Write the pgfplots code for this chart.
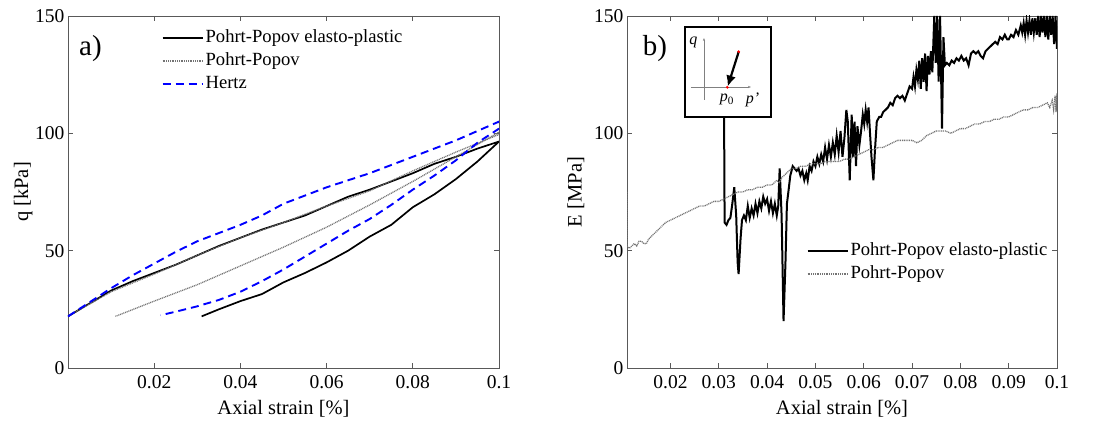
\documentclass[border=0pt]{standalone}
\usepackage{pgfplots}
\pgfplotsset{compat=1.18}
\usepackage{fontspec}
\setmainfont{Liberation Serif}
\usetikzlibrary{arrows.meta}
\pgfplotsset{
  mystyle/.style={
    scale only axis, width=431pt, height=352pt,
    axis line style={line width=0.9pt, black!65},
    tick align=inside, major tick length=5pt,
    tick style={line width=0.8pt, black!65},
    /pgf/number format/assume math mode=true,
    ticklabel style={font=\fontsize{19.5}{21}\selectfont},
    xticklabel style={yshift=-4pt},
    label style={font=\fontsize{20.5}{22}\selectfont},
    scaled x ticks=false,
    xticklabel style={/pgf/number format/fixed, /pgf/number format/precision=2},
    ymin=0, ymax=150, ytick={0,50,100,150},
    xmax=0.1,
    xlabel={Axial strain [\%]},
    xlabel style={at={(axis description cs:0.5,-0.116)}, anchor=center},
    legend cell align=left,
    legend image code/.code={\draw[#1] (0pt,0pt) -- (40pt,0pt);},
  },
  pp/.style={black, line width=1.7pt},
  ppd/.style={black!55, line width=1.3pt, dash pattern=on 1pt off 0.8pt},
  hz/.style={blue, line width=1.9pt, dash pattern=on 8pt off 5pt},
}
\begin{document}
\begin{tikzpicture}
\path[use as bounding box] (0,0) rectangle (1096pt,426pt);
% ---------- panel a ----------
\begin{axis}[mystyle, at={(68pt,58pt)}, anchor=south west,
  xmin=0, xtick={0.02,0.04,0.06,0.08,0.1},
  ylabel={q [kPa]},
  ylabel style={at={(axis description cs:-0.104,0.5)}, anchor=center, rotate=0},
  legend style={draw=none, fill=none, at={(0.21,0.975)}, anchor=north west,
    font=\fontsize{18.6}{22}\selectfont, row sep=1pt,
    nodes={inner sep=2pt, text height=14pt, text depth=4pt}},
]
\addplot[pp] coordinates {
(0,22) (0.005,27.5) (0.01,33) (0.015,37) (0.02,40.5) (0.025,44) (0.03,48)
(0.035,52) (0.04,55.5) (0.045,59) (0.05,62) (0.055,65) (0.06,69) (0.065,73)
(0.07,76) (0.075,79.5) (0.08,83) (0.085,87) (0.09,90) (0.095,93.5) (0.1,96.5)
(0.095,88) (0.09,80.5) (0.085,74) (0.08,68.5) (0.075,61) (0.07,56) (0.065,50)
(0.06,45) (0.055,40.5) (0.05,36.5) (0.045,31.5) (0.04,28.5) (0.035,25) (0.031,22)
};
\addlegendentry{Pohrt-Popov elasto-plastic}
\addplot[ppd] coordinates {
(0,22) (0.01,32.5) (0.02,40) (0.03,48) (0.04,55.5) (0.05,62) (0.06,69)
(0.07,75.5) (0.08,84) (0.09,92) (0.1,99.5)
(0.1,100.5) (0.09,90) (0.08,79.5) (0.07,69.5) (0.06,60) (0.05,51.5)
(0.04,43.5) (0.03,35.5) (0.02,28.5) (0.011,22)
};
\addlegendentry{Pohrt-Popov}
\addplot[hz] coordinates {
(0,22) (0.005,28) (0.01,34) (0.015,39.5) (0.02,44.5) (0.025,49.5) (0.03,54)
(0.035,57.5) (0.04,61) (0.045,65) (0.05,70) (0.055,73.5) (0.06,77) (0.065,80)
(0.07,83) (0.075,86.5) (0.08,90) (0.085,93.5) (0.09,97) (0.095,101) (0.1,105)
(0.1,102) (0.095,96) (0.09,88.5) (0.085,82) (0.08,76) (0.075,69.5) (0.07,63.5)
(0.065,58.5) (0.06,53) (0.055,47.5) (0.05,42) (0.045,37) (0.04,32.5)
(0.035,29) (0.03,26.3) (0.025,24) (0.0215,22.5)
};
\addlegendentry{Hertz}
\node[font=\fontsize{29}{30}\selectfont] at (axis cs:0.0052,136) {a)};
\end{axis}
% ---------- panel b ----------
\begin{axis}[mystyle, width=430pt, at={(627pt,58pt)}, anchor=south west,
  xmin=0.011, xtick={0.02,0.03,0.04,0.05,0.06,0.07,0.08,0.09,0.1},
  ylabel={E [MPa]},
  ylabel style={at={(axis description cs:-0.119,0.5)}, anchor=center},
  legend style={draw=none, fill=none, at={(0.41,0.37)}, anchor=north west,
    font=\fontsize{18.6}{22}\selectfont, row sep=1pt,
    nodes={inner sep=2pt, text height=14pt, text depth=4pt}},
]
\addplot[pp, line width=2pt] coordinates {
(0.0310,130) (0.0311,105) (0.0312,62) (0.0316,61) (0.0320,63) (0.0324,64)
(0.0328,70) (0.0332,77) (0.0336,65) (0.0339,45) (0.0341,40) (0.0345,55)
(0.0348,63) (0.0352,65) (0.0356,63) (0.0360,69) (0.0364,64) (0.0368,68)
(0.0372,65) (0.0376,70) (0.0380,66) (0.0384,71) (0.0388,68) (0.0392,73)
(0.0396,70) (0.0400,72) (0.0404,67) (0.0408,71) (0.0412,66) (0.0416,70)
(0.0420,65) (0.0423,69) (0.0426,85) (0.0430,65) (0.0434,20) (0.0438,45)
(0.0441,70) (0.0444,75) (0.0448,82) (0.0453,86) (0.0457,85) (0.0461,84)
(0.0465,85) (0.0469,82) (0.0473,84) (0.0477,80) (0.0481,83) (0.0484,80)
(0.0488,86) (0.0492,84) (0.0496,88) (0.0500,86) (0.0504,90) (0.0508,87)
(0.0512,91) (0.0516,88) (0.0520,94) (0.0524,89) (0.0528,95) (0.0532,90)
(0.0536,96) (0.0540,91) (0.0544,99) (0.0548,92) (0.0552,101) (0.0556,90)
(0.0560,98) (0.0564,110) (0.0567,105) (0.0571,80) (0.0575,108) (0.0578,90)
(0.0581,105) (0.0584,86) (0.0587,103) (0.0591,95) (0.0594,100) (0.0598,108)
(0.0601,104) (0.0604,110) (0.0607,105) (0.0610,111) (0.0613,100) (0.0616,90)
(0.0620,80) (0.0623,92) (0.0627,105) (0.0632,107) (0.0636,107) (0.0640,109)
(0.0645,110) (0.0650,111) (0.0655,113) (0.0660,112) (0.0665,115) (0.0670,116)
(0.0675,115) (0.0680,116) (0.0685,114) (0.0690,117) (0.0695,120) (0.0700,119)
(0.0703,124) (0.0706,120) (0.0709,127) (0.0712,123) (0.0715,131) (0.0718,119)
(0.0721,132) (0.0724,122) (0.0727,134) (0.0730,118) (0.0733,133) (0.0736,125)
(0.0739,135) (0.0742,126) (0.0746,150) (0.0749,130) (0.0752,150) (0.0755,122)
(0.0758,150) (0.0762,102) (0.0765,141) (0.0768,129) (0.0772,130) (0.0777,129)
(0.0782,131) (0.0787,130) (0.0792,132) (0.0797,131) (0.0802,133) (0.0807,131)
(0.0812,132) (0.0817,129) (0.0822,134) (0.0827,135) (0.0832,134) (0.0837,135)
(0.0842,133) (0.0847,132) (0.0852,135) (0.0857,136) (0.0862,137) (0.0867,138)
(0.0872,139) (0.0877,138) (0.0882,141) (0.0887,140) (0.0892,142) (0.0897,140)
(0.0900,140) (0.0905,142) (0.0910,141) (0.0915,144) (0.0920,142) (0.0925,146)
(0.0928,143) (0.0931,147) (0.0934,142) (0.0937,148) (0.0940,143) (0.0943,148)
(0.0946,142) (0.0949,149) (0.0952,143) (0.0955,149) (0.0958,142) (0.0961,150)
(0.0964,141) (0.0967,150) (0.0970,143) (0.0973,150) (0.0976,141) (0.0979,150)
(0.0982,140) (0.0985,150) (0.0988,142) (0.0991,150) (0.0994,138) (0.0997,150)
(0.1000,136)
};
\addlegendentry{Pohrt-Popov elasto-plastic}
\addplot[ppd] coordinates {
(0.0110,75) (0.0110,52) (0.0115,51) (0.0120,52) (0.0125,53) (0.0130,52)
(0.0135,54) (0.0140,54) (0.0145,53) (0.0150,53) (0.0155,55) (0.0160,56)
(0.0170,58) (0.0180,60) (0.0190,62) (0.0200,63) (0.0210,64) (0.0220,65)
(0.0230,66) (0.0240,67) (0.0250,68) (0.0260,69) (0.0270,69) (0.0280,70)
(0.0290,71) (0.0300,71) (0.0310,72) (0.0320,73) (0.0330,74) (0.0340,75)
(0.0350,75) (0.0360,76) (0.0370,76) (0.0380,77) (0.0390,77) (0.0400,78)
(0.0410,78) (0.0420,80) (0.0425,79) (0.0430,81) (0.0440,83) (0.0450,85)
(0.0460,85) (0.0470,86) (0.0480,86) (0.0490,87) (0.0500,87) (0.0510,87)
(0.0520,88) (0.0530,88) (0.0540,88) (0.0550,88) (0.0560,89) (0.0570,89)
(0.0580,90) (0.0590,91) (0.0600,92) (0.0610,93) (0.0620,93) (0.0630,94)
(0.0640,94) (0.0650,95) (0.0660,96) (0.0670,97) (0.0680,97) (0.0690,97)
(0.0700,97) (0.0710,96) (0.0720,97) (0.0730,99) (0.0740,100) (0.0750,101)
(0.0760,101) (0.0770,101) (0.0780,100) (0.0790,101) (0.0800,102) (0.0810,102)
(0.0820,103) (0.0830,104) (0.0840,104) (0.0850,105) (0.0860,105) (0.0870,106)
(0.0880,106) (0.0890,107) (0.0900,107) (0.0910,108) (0.0920,109) (0.0930,110)
(0.0940,110) (0.0950,111) (0.0960,111) (0.0970,112) (0.0980,113) (0.0985,111)
(0.0990,114) (0.0993,110) (0.0996,116) (0.0998,109) (0.1000,117) (0.1000,110)
};
\addlegendentry{Pohrt-Popov}
\node[font=\fontsize{29}{30}\selectfont] at (axis cs:0.0168,136) {b)};
\end{axis}
% ---------- inset ----------
\begin{axis}[at={(684.7pt,309.3pt)}, anchor=south west, scale only axis,
  width=86pt, height=90pt, xmin=0, xmax=1, ymin=0, ymax=1,
  xtick=\empty, ytick=\empty, axis line style={line width=2pt},
  axis background/.style={fill=white}, clip=false]
\draw[gray, line width=0.7pt, -{Stealth[length=3pt]}] (axis cs:0.224,0.186) -- (axis cs:0.224,0.874);
\draw[gray, line width=0.7pt, -{Stealth[length=3pt]}] (axis cs:0.073,0.33) -- (axis cs:0.77,0.33);
\addplot[black, line width=2.2pt, -{Latex[length=11pt,width=10pt]}] coordinates {(0.628,0.722) (0.50,0.335)};
\addplot[only marks, red, mark=*, mark size=1.2pt] coordinates {(0.628,0.722) (0.495,0.327)};
\node[font=\fontsize{16}{17}\selectfont\itshape] at (axis cs:0.10,0.83) {q};
\node[font=\fontsize{16}{17}\selectfont\itshape] at (axis cs:0.49,0.19) {p\textsubscript{\normalfont 0}};
\node[font=\fontsize{16}{17}\selectfont\itshape] at (axis cs:0.79,0.19) {p\textquoteright};
\end{axis}
\end{tikzpicture}
\end{document}
